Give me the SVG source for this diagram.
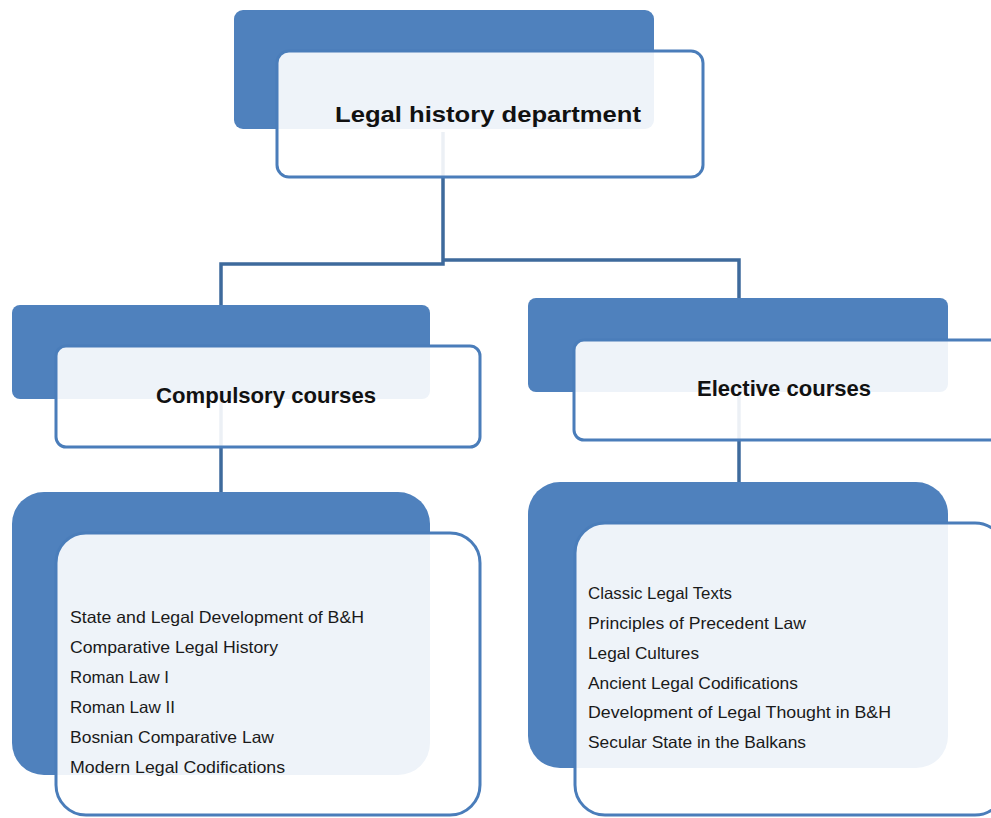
<svg xmlns="http://www.w3.org/2000/svg" width="991" height="818" viewBox="0 0 991 818">
  <style>
    .back { fill: #4f81bd; }
    .front { fill: #ffffff; fill-opacity: 0.9; stroke: #4a7dba; stroke-width: 3; }
    .link { fill: none; stroke: #3e6a9c; stroke-width: 3.5; }
    .head { font-family: "Liberation Sans", Arial, sans-serif; font-weight: bold; font-size: 22.5px; fill: #111; }
    .item { font-family: "Liberation Sans", Arial, sans-serif; font-size: 16.5px; fill: #1a1a1a; }
  </style>
  <rect width="991" height="818" fill="#ffffff"/>

  <!-- connectors (behind the cards) -->
  <g id="connectors">
    <path class="link" d="M443,132 V264 H221 V309"/>
    <path class="link" d="M443,260 H739 V302"/>
    <path class="link" d="M221,395 V494"/>
    <path class="link" d="M739,390 V484"/>
  </g>

  <g id="node-department">
    <rect class="back" x="234" y="10" width="420" height="119" rx="9"/>
    <rect class="front" x="277" y="51" width="426" height="126" rx="12"/>
    <text class="head" x="335" y="122" textLength="306" lengthAdjust="spacingAndGlyphs">Legal history department</text>
  </g>

  <g id="node-compulsory">
    <rect class="back" x="12" y="305" width="418" height="94" rx="8"/>
    <rect class="front" x="56" y="346" width="424" height="101" rx="10"/>
    <text class="head" x="156" y="403" textLength="220" lengthAdjust="spacingAndGlyphs">Compulsory courses</text>
  </g>

  <g id="node-elective">
    <rect class="back" x="528" y="298" width="420" height="94" rx="8"/>
    <rect class="front" x="574" y="340" width="430" height="100" rx="10"/>
    <text class="head" x="697" y="396" textLength="174" lengthAdjust="spacingAndGlyphs">Elective courses</text>
  </g>

  <g id="node-compulsory-list">
    <rect class="back" x="12" y="492" width="418" height="283" rx="32"/>
    <rect class="front" x="56" y="533" width="424" height="282" rx="30"/>
    <text class="item" x="70" y="623" textLength="294" lengthAdjust="spacingAndGlyphs">State and Legal Development  of B&amp;H</text>
    <text class="item" x="70" y="653" textLength="208" lengthAdjust="spacingAndGlyphs">Comparative Legal History</text>
    <text class="item" x="70" y="683" textLength="99" lengthAdjust="spacingAndGlyphs">Roman Law I</text>
    <text class="item" x="70" y="713" textLength="105" lengthAdjust="spacingAndGlyphs">Roman Law II</text>
    <text class="item" x="70" y="743" textLength="204" lengthAdjust="spacingAndGlyphs">Bosnian Comparative Law</text>
    <text class="item" x="70" y="773" textLength="215" lengthAdjust="spacingAndGlyphs">Modern Legal Codifications</text>
  </g>

  <g id="node-elective-list">
    <rect class="back" x="528" y="482" width="420" height="286" rx="32"/>
    <rect class="front" x="575" y="523" width="430" height="292" rx="30"/>
    <text class="item" x="588" y="599" textLength="144" lengthAdjust="spacingAndGlyphs">Classic Legal Texts</text>
    <text class="item" x="588" y="629" textLength="218" lengthAdjust="spacingAndGlyphs">Principles of Precedent Law</text>
    <text class="item" x="588" y="659" textLength="111" lengthAdjust="spacingAndGlyphs">Legal Cultures</text>
    <text class="item" x="588" y="689" textLength="210" lengthAdjust="spacingAndGlyphs">Ancient Legal Codifications</text>
    <text class="item" x="588" y="718" textLength="303" lengthAdjust="spacingAndGlyphs">Development of Legal Thought in B&amp;H</text>
    <text class="item" x="588" y="748" textLength="218" lengthAdjust="spacingAndGlyphs">Secular State in the Balkans</text>
  </g>
</svg>
